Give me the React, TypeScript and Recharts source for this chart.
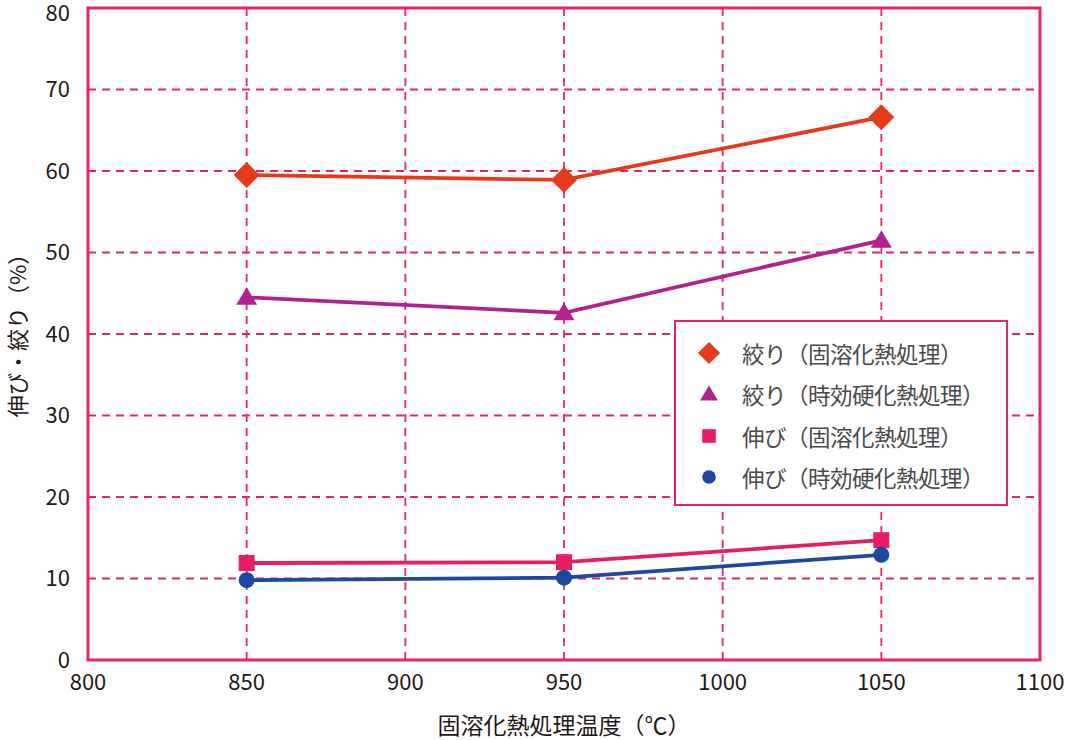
import { LineChart, Line, XAxis, YAxis, CartesianGrid, ReferenceArea } from 'recharts'

const temps = [850, 950, 1050]
const shiboriSolution = [59.5, 58.9, 66.6]
const shiboriAging = [44.5, 42.6, 51.5]
const nobiSolution = [11.9, 12.0, 14.7]
const nobiAging = [9.8, 10.1, 12.9]

const xTicks = [800, 850, 900, 950, 1000, 1050, 1100]
const yTicks = [0, 10, 20, 30, 40, 50, 60, 70, 80]

const PINK = '#e6246a'
const FONT = '"Noto Sans CJK JP", "Noto Sans", sans-serif'

const SERIES = [
  { key: 'a', name: '絞り（固溶化熱処理）', color: '#e63a1c', shape: 'diamond' },
  { key: 'b', name: '絞り（時効硬化熱処理）', color: '#b2228e', shape: 'triangle' },
  { key: 'c', name: '伸び（固溶化熱処理）', color: '#e61e64', shape: 'square' },
  { key: 'd', name: '伸び（時効硬化熱処理）', color: '#1e47a0', shape: 'circle' },
]

const data = temps.map((t, i) => ({
  t,
  a: shiboriSolution[i],
  b: shiboriAging[i],
  c: nobiSolution[i],
  d: nobiAging[i],
}))

function Marker({ cx, cy, shape, color, scale = 1 }: { cx: number; cy: number; shape: string; color: string; scale?: number }) {
  if (shape === 'diamond') {
    const r = 13 * scale
    return <polygon points={`${cx},${cy - r} ${cx + r},${cy} ${cx},${cy + r} ${cx - r},${cy}`} fill={color} />
  }
  if (shape === 'triangle') {
    const r = 10 * scale
    return <polygon points={`${cx},${cy - r} ${cx + r * 1.05},${cy + r * 0.75} ${cx - r * 1.05},${cy + r * 0.75}`} fill={color} />
  }
  if (shape === 'square') {
    const r = 8 * scale
    return <rect x={cx - r} y={cy - r} width={r * 2} height={r * 2} fill={color} />
  }
  return <circle cx={cx} cy={cy} r={8 * scale} fill={color} />
}

function LegendBox() {
  return (
    <div
      style={{
        position: 'absolute',
        left: 674,
        top: 320,
        width: 334,
        height: 186,
        border: `2px solid ${PINK}`,
        background: '#fff',
        boxSizing: 'border-box',
        padding: '10px 0 0 18px',
        fontFamily: FONT,
        fontSize: 22.5,
        color: '#4a4a4a',
        lineHeight: 1,
      }}
    >
      {SERIES.map((s) => (
        <div key={s.key} style={{ display: 'flex', alignItems: 'center', height: 41.5 }}>
          <svg width={30} height={30} style={{ marginRight: 18 }}>
            <Marker cx={15} cy={15} shape={s.shape} color={s.color} scale={0.85} />
          </svg>
          <span style={{ letterSpacing: -0.5 }}>{s.name}</span>
        </div>
      ))}
    </div>
  )
}

export default function App() {
  return (
    <div style={{ position: 'absolute', left: 0, top: 0, width: 1078, height: 740, background: '#fff' }}>
      <LineChart width={1078} height={740} data={data} margin={{ top: 8, right: 38, bottom: 0, left: 0 }}>
        <CartesianGrid stroke={PINK} strokeDasharray="8 6" strokeWidth={1.8} />
        <XAxis
          dataKey="t"
          type="number"
          domain={[800, 1100]}
          ticks={xTicks}
          tickLine={false}
          tickSize={0}
          tickMargin={14}
          axisLine={false}
          height={80}
          tick={{ fill: '#231815', fontSize: 22, fontFamily: FONT }}
          label={{ value: '固溶化熱処理温度（℃）', position: 'insideBottom', offset: 6, fill: '#231815', fontSize: 23, fontFamily: FONT }}
        />
        <YAxis
          type="number"
          domain={[0, 80]}
          ticks={yTicks}
          width={88}
          tickLine={false}
          tickSize={0}
          tickMargin={18}
          axisLine={false}
          tick={{ fill: '#231815', fontSize: 22, fontFamily: FONT }}
          label={{ value: '伸び・絞り（%）', angle: -90, position: 'insideLeft', offset: 0, dx: 18, dy: -4, textAnchor: 'middle', fill: '#231815', fontSize: 22, fontFamily: FONT }}
        />
        <ReferenceArea x1={800} x2={1100} y1={0} y2={80} fill="none" fillOpacity={0} stroke={PINK} strokeWidth={3} />
        {SERIES.map((s) => (
          <Line
            key={s.key}
            dataKey={s.key}
            name={s.name}
            stroke={s.color}
            strokeWidth={3.8}
            isAnimationActive={false}
            dot={(p: any) => <Marker key={`${s.key}-${p.index}`} cx={p.cx} cy={p.cy} shape={s.shape} color={s.color} />}
            activeDot={false}
          />
        ))}
      </LineChart>
      <LegendBox />
    </div>
  )
}
